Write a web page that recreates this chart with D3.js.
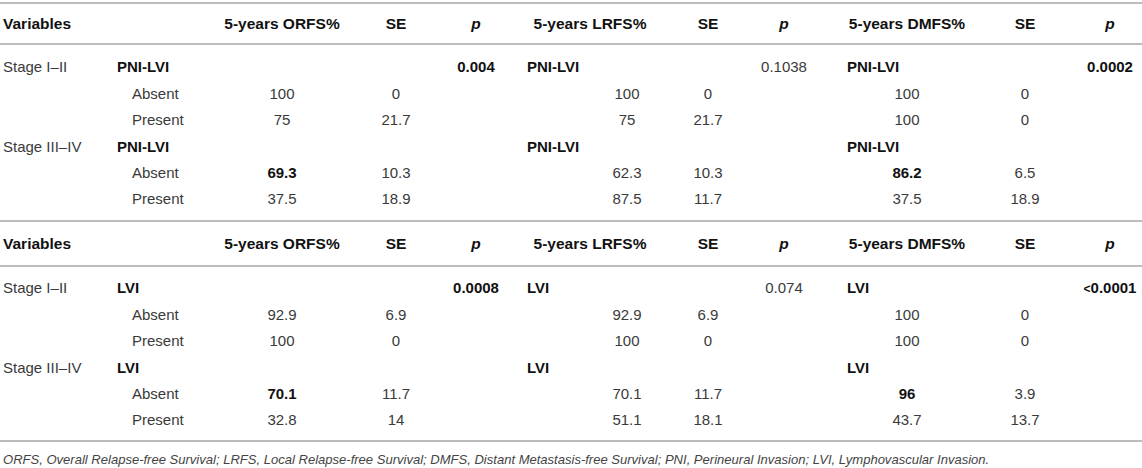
<!DOCTYPE html>
<html>
<head>
<meta charset="utf-8">
<title>Survival by PNI-LVI and LVI</title>
<script src="https://cdnjs.cloudflare.com/ajax/libs/d3/7.8.5/d3.min.js"></script>
<style>
    html, body { margin: 0; padding: 0; background: #fff; }
    #survival-table { width: 1142px; height: 468px; }
    text { font-family: "Liberation Sans", Arial, Helvetica, sans-serif; }
</style>
</head>
<body>
<div id="survival-table"></div>
<script>
// Table data
const headerLabels = ["Variables", "5-years ORFS%", "SE", "p", "5-years LRFS%", "SE", "p", "5-years DMFS%", "SE", "p"];
const stages = ["Stage I–II", "Stage III–IV"];
const levels = ["Absent", "Present"];
const factors = ["PNI-LVI", "LVI"];

// order in every value array: stage I–II absent, present, stage III–IV absent, present
const pniOrfs = [100, 75, 69.3, 37.5];
const pniOrfsSe = [0, 21.7, 10.3, 18.9];
const pniLrfs = [100, 75, 62.3, 87.5];
const pniLrfsSe = [0, 21.7, 10.3, 11.7];
const pniDmfs = [100, 100, 86.2, 37.5];
const pniDmfsSe = [0, 0, 6.5, 18.9];
const pniP = ["0.004", "0.1038", "0.0002"];

const lviOrfs = [92.9, 100, 70.1, 32.8];
const lviOrfsSe = [6.9, 0, 11.7, 14];
const lviLrfs = [92.9, 100, 70.1, 51.1];
const lviLrfsSe = [6.9, 0, 11.7, 18.1];
const lviDmfs = [100, 100, 96, 43.7];
const lviDmfsSe = [0, 0, 3.9, 13.7];
const lviP = ["0.0008", "0.074", "<0.0001"];

// values printed in bold in the source (block-outcome-index)
const boldValues = ["0-ORFS-2", "0-DMFS-2", "1-ORFS-2", "1-DMFS-2"];
const boldP = [[true, false, true], [true, false, true]];

const footnote = "ORFS, Overall Relapse-free Survival; LRFS, Local Relapse-free Survival; DMFS, Distant Metastasis-free Survival; PNI, Perineural Invasion; LVI, Lymphovascular Invasion.";

document.addEventListener('DOMContentLoaded', function() {
    const width = 1142, height = 468;
    const darkInk = "#111", lightInk = "#3a3a3a", ruleColor = "#bcbcbc";

    const blocks = [
        { factor: factors[0], p: pniP, cols: [[pniOrfs, pniOrfsSe], [pniLrfs, pniLrfsSe], [pniDmfs, pniDmfsSe]] },
        { factor: factors[1], p: lviP, cols: [[lviOrfs, lviOrfsSe], [lviLrfs, lviLrfsSe], [lviDmfs, lviDmfsSe]] }
    ];
    const outcomes = ["ORFS", "LRFS", "DMFS"];

    // column positions
    const headerX = d3.scaleOrdinal()
        .domain(d3.range(headerLabels.length))
        .range([3, 282, 396, 476, 590, 708, 784, 907, 1025, 1110]);
    const headerAnchor = i => i === 0 ? "start" : "middle";
    const valueX = d3.scaleOrdinal().domain(outcomes).range([282, 627, 907]);
    const seX = d3.scaleOrdinal().domain(outcomes).range([396, 708, 1025]);
    const pX = d3.scaleOrdinal().domain(outcomes).range([476, 784, 1110]);
    // where the factor name sits in each outcome column
    const factorX = d3.scaleOrdinal().domain(outcomes).range([117, 527, 847]);
    const levelX = 132, stageX = 3;

    // row positions inside each block
    const headerY = [23, 243];
    const rules = [[3, 44], [221, 266]];
    const firstRow = [67, 288];
    const rowY = (b) => d3.scaleLinear().domain([0, 5]).range([firstRow[b], firstRow[b] + 132]);

    const svg = d3.select("#survival-table").append("svg")
        .attr("width", width)
        .attr("height", height)
        .attr("viewBox", [0, 0, width, height]);

    const addText = (g, x, y, txt, opts) => {
        opts = opts || {};
        return g.append("text")
            .attr("x", x)
            .attr("y", y)
            .attr("dy", "0.36em")
            .attr("text-anchor", opts.anchor || "middle")
            .attr("font-size", opts.size || 15)
            .attr("font-weight", opts.bold ? 700 : 400)
            .attr("font-style", opts.italic ? "italic" : "normal")
            .attr("fill", opts.bold ? darkInk : lightInk)
            .text(txt);
    };

    blocks.forEach((block, b) => {
        const g = svg.append("g").attr("class", "block-" + b);
        const y = rowY(b);

        // rules above and below header
        g.selectAll("line.rule")
            .data(rules[b])
            .join("line")
            .attr("class", "rule")
            .attr("x1", 0).attr("x2", width)
            .attr("y1", d => d).attr("y2", d => d)
            .attr("stroke", ruleColor)
            .attr("stroke-width", 2);

        // header labels
        headerLabels.forEach((label, i) => {
            addText(g, headerX(i), headerY[b], label, {
                anchor: headerAnchor(i), bold: true, italic: label === "p", size: 15.5
            });
        });

        stages.forEach((stage, s) => {
            const stageRow = s * 3;
            addText(g, stageX, y(stageRow), stage, { anchor: "start" });

            outcomes.forEach((oc, c) => {
                addText(g, factorX(oc), y(stageRow), block.factor, { anchor: "start", bold: true });
                // p value only shown for the first stage
                if (s === 0) {
                    const pt = addText(g, pX(oc), y(stageRow), null, { bold: boldP[b][c] });
                    const pv = block.p[c];
                    if (pv.startsWith("<")) {
                        pt.append("tspan").attr("font-size", 12).text("<");
                        pt.append("tspan").text(pv.slice(1));
                    } else {
                        pt.text(pv);
                    }
                }
                levels.forEach((lvl, l) => {
                    const idx = s * 2 + l;
                    const ry = y(stageRow + 1 + l);
                    const [vals, ses] = block.cols[c];
                    addText(g, valueX(oc), ry, vals[idx], {
                        bold: boldValues.includes(b + "-" + oc + "-" + idx)
                    });
                    addText(g, seX(oc), ry, ses[idx]);
                });
            });

            levels.forEach((lvl, l) => {
                addText(g, levelX, y(stageRow + 1 + l), lvl, { anchor: "start" });
            });
        });
    });

    // bottom rule and footnote
    svg.append("line")
        .attr("x1", 0).attr("x2", width)
        .attr("y1", 441).attr("y2", 441)
        .attr("stroke", ruleColor)
        .attr("stroke-width", 2);

    const note = addText(svg, 3, 459, footnote, { anchor: "start", italic: true, size: 13 })
        .attr("fill", "#444");
    // the footnote in the source ends near x = 990
    const len = note.node().getComputedTextLength();
    if (len > 0) note.attr("font-size", 13 * 987 / len);

    console.log('Survival table rendered');
});
</script>
</body>
</html>
